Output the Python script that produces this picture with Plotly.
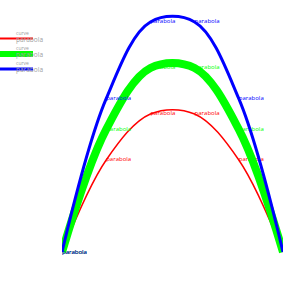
import plotly.graph_objects as go

x_vals = [0, 1, 2, 3, 4, 5]
red_y = [0, 2.4, 3.6, 3.6, 2.4, 0]
green_y = [0, 3.2, 4.8, 4.8, 3.2, 0]
blue_y = [0, 4, 6, 6, 4, 0]
labels = ["parabola", "parabola", "parabola", "parabola", "parabola", ""]
legend_title = "curve"
legend_name = "parabola"
series = [("red", red_y, "#ff0000", 1.5), ("green", green_y, "#00ff00", 8), ("blue", blue_y, "#0000ff", 3)]

W, H = 300, 300
ML, MR, MT, MB = 62, 17, 7, 42

def px(p):
    return (p - ML) / (W - ML - MR)

def py(p):
    return (H - MB - p) / (H - MT - MB)

fig = go.Figure()
for nm, ys, col, w in series:
    fig.add_trace(go.Scatter(
        x=x_vals, y=ys, mode="lines+text", text=labels,
        textposition="middle right", textfont=dict(color=col, size=6),
        line=dict(color=col, width=w, shape="spline"),
        name=legend_name, showlegend=False, cliponaxis=True,
    ))

# manual compact legend
legend_rows = [(38.5, "#ff0000", 2), (54, "#00ff00", 6), (69, "#0000ff", 3)]
shapes = []
annotations = []
for yrow, col, lw in legend_rows:
    annotations.append(dict(x=px(14), y=py(yrow - 6), xref="paper", yref="paper", text=legend_title,
                            showarrow=False, xanchor="left", yanchor="middle",
                            font=dict(size=5, color="#a0a0a0")))
    annotations.append(dict(x=px(14), y=py(yrow + 0.5), xref="paper", yref="paper", text=legend_name,
                            showarrow=False, xanchor="left", yanchor="middle",
                            font=dict(size=6.5, color="#a0a0a0")))
    shapes.append(dict(type="line", xref="paper", yref="paper", x0=px(0), x1=px(33),
                       y0=py(yrow), y1=py(yrow), line=dict(color=col, width=lw), layer="above"))

fig.update_layout(
    width=W, height=H,
    margin=dict(l=ML, r=MR, t=MT, b=MB),
    paper_bgcolor="white", plot_bgcolor="white",
    xaxis=dict(visible=False, range=[0, 5], automargin=False),
    yaxis=dict(visible=False, range=[-0.156, 6.39], automargin=False),
    showlegend=False,
    shapes=shapes,
    annotations=annotations,
)
fig.write_html("out.html")
